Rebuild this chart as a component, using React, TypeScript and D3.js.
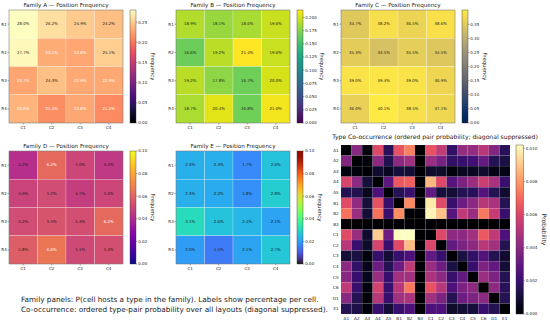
import React from "react";
import * as d3 from "d3";

const rows = ["R1", "R2", "R3", "R4"];
const cols = ["C1", "C2", "C3", "C4"];

// percentages per cell, rows R1..R4, cols C1..C4
const familyA = [
  [28.0, 26.2, 24.9, 24.2],
  [27.7, 23.1, 22.8, 25.1],
  [22.7, 24.3, 22.9, 22.9],
  [23.6, 21.4, 22.8, 21.2],
];
const familyB = [
  [18.9, 18.1, 18.6, 19.6],
  [16.6, 19.2, 21.4, 19.6],
  [19.2, 17.8, 16.7, 20.0],
  [18.7, 20.4, 16.8, 21.0],
];
const familyC = [
  [34.7, 38.2, 36.5, 38.6],
  [35.3, 33.5, 35.5, 34.5],
  [39.0, 39.4, 39.0, 36.9],
  [36.0, 40.1, 38.5, 37.1],
];
const familyD = [
  [4.2, 6.2, 5.0, 4.5],
  [4.9, 5.2, 4.7, 5.0],
  [5.2, 5.5, 5.3, 6.2],
  [5.8, 6.6, 5.1, 5.3],
];
const familyE = [
  [2.3, 2.3, 1.7, 2.6],
  [2.3, 2.2, 1.8, 2.8],
  [3.1, 2.6, 2.4, 2.1],
  [2.0, 1.5, 2.1, 2.7],
];

const ticksA = [0, 0.05, 0.1, 0.15, 0.2, 0.25];
const ticksB = [0, 0.025, 0.05, 0.075, 0.1, 0.125, 0.15, 0.175, 0.2];
const ticksC = [0, 0.05, 0.1, 0.15, 0.2, 0.25, 0.3, 0.35];
const ticksDE = [0, 0.02, 0.04, 0.06, 0.08, 0.1];

const types = ["A1", "A2", "A3", "A4", "A5", "B1", "B2", "B3", "C1", "C2", "C3", "C4", "C5", "C6", "D1", "E1"];
// ordered pair probability, row = first type, col = second type
const cooc = [
  [0, 0.004, 0.0003, 0.0061, 0.0016, 0.0064, 0.0075, 0, 0.0064, 0.0054, 0.0018, 0.0043, 0.0043, 0.0051, 0.0038, 0.0016],
  [0.0038, 0, 0.0003, 0.0041, 0.0014, 0.0041, 0.0046, 0, 0.0044, 0.0036, 0.0018, 0.002, 0.0022, 0.0031, 0.0015, 0.0012],
  [0.0003, 0.0002, 0, 0.0009, 0.0006, 0.0011, 0.001, 0, 0.0008, 0.0008, 0.0002, 0.0006, 0.0006, 0.0009, 0.0004, 0.0004],
  [0.006, 0.0041, 0.0011, 0, 0.0029, 0.0066, 0.0068, 0, 0.0087, 0.0061, 0.0027, 0.0037, 0.0044, 0.0056, 0.0048, 0.002],
  [0.0015, 0.0014, 0.0006, 0.0025, 0, 0.0015, 0.002, 0, 0.003, 0.0011, 0.001, 0.0015, 0.0016, 0.0026, 0.0015, 0.0009],
  [0.0062, 0.0042, 0.0011, 0.0064, 0.002, 0, 0.0077, 0, 0.0098, 0.0062, 0.002, 0.0033, 0.0041, 0.0051, 0.0048, 0.0015],
  [0.0072, 0.0044, 0.001, 0.0072, 0.002, 0.0078, 0, 0, 0.01, 0.0089, 0.0027, 0.0053, 0.0044, 0.0073, 0.0055, 0.002],
  [0, 0, 0, 0, 0, 0, 0, 0, 0, 0, 0, 0, 0, 0, 0, 0],
  [0.0062, 0.0044, 0.0009, 0.0091, 0.0033, 0.0102, 0.0102, 0, 0, 0.0061, 0.0041, 0.0041, 0.0046, 0.0066, 0.0053, 0.0025],
  [0.0051, 0.002, 0.0008, 0.0059, 0.002, 0.0061, 0.0088, 0, 0.006, 0, 0.003, 0.0037, 0.0041, 0.0051, 0.0046, 0.0015],
  [0.001, 0.0012, 0.0003, 0.002, 0.001, 0.002, 0.0025, 0, 0.003, 0.002, 0, 0.0012, 0.0018, 0.0026, 0.0015, 0.0009],
  [0.0041, 0.0018, 0.0005, 0.0033, 0.0015, 0.0033, 0.0053, 0, 0.0044, 0.0033, 0.0012, 0, 0.002, 0.0037, 0.003, 0.001],
  [0.004, 0.002, 0.0006, 0.0044, 0.002, 0.0046, 0.0046, 0, 0.0049, 0.0041, 0.002, 0.003, 0, 0.0044, 0.0037, 0.0015],
  [0.0053, 0.002, 0.0003, 0.0058, 0.002, 0.0051, 0.0073, 0, 0.0064, 0.0051, 0.0025, 0.0037, 0.0041, 0, 0.0041, 0.0016],
  [0.004, 0.0015, 0.0002, 0.0051, 0.002, 0.0046, 0.0049, 0, 0.0046, 0.0037, 0.0015, 0.0033, 0.0037, 0.0041, 0, 0.0015],
  [0.0015, 0.0013, 0.0002, 0.002, 0.001, 0.002, 0.0025, 0, 0.0025, 0.0025, 0.0008, 0.001, 0.0011, 0.002, 0.0015, 0],
];
const coocTicks = [0, 0.002, 0.004, 0.006, 0.008, 0.01];

const FONT = "DejaVu Sans";
const DARK = "#1a1a1a";
const LIGHT = "#fff";

const mean = (m: number[][]) => d3.mean(m.flat()) as number;

const panels = [
  { title: "Family A — Position Frequency", data: familyA, cmap: d3.interpolateMagma, vmax: 0.28, ticks: ticksA, fmt: ".2f", col: 0, row: 0,
    label: (v: number) => (v > mean(familyA) ? DARK : LIGHT) },
  { title: "Family B — Position Frequency", data: familyB, cmap: d3.interpolateViridis, vmax: 0.214, ticks: ticksB, fmt: ".3f", col: 1, row: 0,
    label: () => DARK },
  { title: "Family C — Position Frequency", data: familyC, cmap: d3.interpolateCividis, vmax: 0.401, ticks: ticksC, fmt: ".2f", col: 2, row: 0,
    label: () => DARK },
  { title: "Family D — Position Frequency", data: familyD, cmap: d3.interpolatePlasma, vmax: 0.1, ticks: ticksDE, fmt: ".2f", col: 0, row: 1,
    label: (v: number) => (v > 6 ? LIGHT : DARK) },
  { title: "Family E — Position Frequency", data: familyE, cmap: d3.interpolateTurbo, vmax: 0.1, ticks: ticksDE, fmt: ".2f", col: 1, row: 1,
    label: () => DARK },
];

// layout
const colX = [9, 176, 341];
const pw = 114;
const rowY = [10, 151];
const ph = 113;
const tickFs = 4.0;

function Gradient({ id, cmap }: { id: string; cmap: (t: number) => string }) {
  const stops = d3.range(0, 1.0001, 0.05);
  return (
    <linearGradient id={id} x1="0" y1="1" x2="0" y2="0">
      {stops.map((t) => (
        <stop key={t} offset={t} stopColor={cmap(t)} />
      ))}
    </linearGradient>
  );
}

function Colorbar({ id, x, y0, y1, w, vmax, ticks, fmt, label, labelDx, labelFs }: any) {
  const s = d3.scaleLinear().domain([0, vmax]).range([y1, y0]);
  const f = d3.format(fmt);
  return (
    <g>
      <rect x={x} y={y0} width={w} height={y1 - y0} fill={`url(#${id})`} stroke="#333" strokeWidth={0.4} />
      {ticks.map((t: number) => (
        <g key={t}>
          <line x1={x + w} x2={x + w + 1.5} y1={s(t)} y2={s(t)} stroke="#333" strokeWidth={0.4} />
          <text x={x + w + 2.3} y={s(t)} dy="0.35em" fontSize={tickFs} fill="#222">{f(t)}</text>
        </g>
      ))}
      <text transform={`translate(${x + w + labelDx},${(y0 + y1) / 2}) rotate(90)`} textAnchor="middle" fontSize={labelFs} fill="#222">
        {label}
      </text>
    </g>
  );
}

function FamilyPanel({ p, i }: { p: (typeof panels)[number]; i: number }) {
  const x0 = colX[p.col], y0 = rowY[p.row];
  const xs = d3.scaleBand().domain(cols).range([x0, x0 + pw]);
  const ys = d3.scaleBand().domain(rows).range([y0, y0 + ph]);
  const color = d3.scaleSequential(p.cmap).domain([0, p.vmax]);
  const gid = "grad" + i;
  return (
    <g>
      <defs>
        <Gradient id={gid} cmap={p.cmap} />
      </defs>
      <text x={x0 + pw / 2} y={y0 - 3} textAnchor="middle" fontSize={5.6} fill="#222">{p.title}</text>
      {p.data.map((r, ri) =>
        r.map((v, ci) => (
          <g key={ri + "-" + ci}>
            <rect x={xs(cols[ci])} y={ys(rows[ri])} width={xs.bandwidth()} height={ys.bandwidth()}
              fill={color(v / 100)} stroke="rgba(255,255,255,0.45)" strokeWidth={0.5} />
            <text x={(xs(cols[ci]) as number) + xs.bandwidth() / 2} y={(ys(rows[ri]) as number) + ys.bandwidth() / 2}
              dy="0.35em" textAnchor="middle" fontSize={3.9} fill={p.label(v)}>
              {v.toFixed(1)}%
            </text>
          </g>
        ))
      )}
      <rect x={x0} y={y0} width={pw} height={ph} fill="none" stroke="#444" strokeWidth={0.4} />
      {rows.map((r) => (
        <g key={r}>
          <line x1={x0 - 1.5} x2={x0} y1={(ys(r) as number) + ys.bandwidth() / 2} y2={(ys(r) as number) + ys.bandwidth() / 2} stroke="#333" strokeWidth={0.4} />
          <text x={x0 - 2.3} y={(ys(r) as number) + ys.bandwidth() / 2} dy="0.35em" textAnchor="end" fontSize={tickFs} fill="#222">{r}</text>
        </g>
      ))}
      {cols.map((c) => (
        <g key={c}>
          <line x1={(xs(c) as number) + xs.bandwidth() / 2} x2={(xs(c) as number) + xs.bandwidth() / 2} y1={y0 + ph} y2={y0 + ph + 1.5} stroke="#333" strokeWidth={0.4} />
          <text x={(xs(c) as number) + xs.bandwidth() / 2} y={y0 + ph + 5.8} textAnchor="middle" fontSize={tickFs} fill="#222">{c}</text>
        </g>
      ))}
      <Colorbar id={gid} x={x0 + pw + 7} y0={y0} y1={y0 + ph} w={6} vmax={p.vmax} ticks={p.ticks} fmt={p.fmt}
        label="Frequency" labelDx={p.fmt === ".3f" ? 17 : 14.5} labelFs={5.4} />
    </g>
  );
}

function Cooccurrence() {
  const mx = 341, my = 145, ms = 169;
  const xs = d3.scaleBand().domain(types).range([mx, mx + ms]);
  const ys = d3.scaleBand().domain(types).range([my, my + ms]);
  const vmax = 0.0102;
  const color = d3.scaleSequential(d3.interpolateMagma).domain([0, vmax]);
  return (
    <g>
      <defs>
        <Gradient id="gradCooc" cmap={d3.interpolateMagma} />
      </defs>
      <text x={435} y={139} textAnchor="middle" fontSize={6.1} fill="#222">
        Type Co-occurrence (ordered pair probability; diagonal suppressed)
      </text>
      {cooc.map((r, ri) =>
        r.map((v, ci) => (
          <rect key={ri + "-" + ci} x={xs(types[ci])} y={ys(types[ri])} width={xs.bandwidth()} height={ys.bandwidth()}
            fill={color(v)} stroke="rgba(255,255,255,0.13)" strokeWidth={0.4} />
        ))
      )}
      {types.map((t) => (
        <g key={t}>
          <text x={mx - 2.3} y={(ys(t) as number) + ys.bandwidth() / 2} dy="0.35em" textAnchor="end" fontSize={4.2} fill="#222">{t}</text>
          <text x={(xs(t) as number) + xs.bandwidth() / 2} y={my + ms + 5.5} textAnchor="middle" fontSize={4.2} fill="#222">{t}</text>
        </g>
      ))}
      <Colorbar id="gradCooc" x={mx + ms + 6} y0={my} y1={my + ms} w={7.5} vmax={vmax} ticks={coocTicks} fmt=".3f"
        label="Probability" labelDx={18.5} labelFs={6.0} />
    </g>
  );
}

export default function App() {
  return (
    <svg width={550} height={323} style={{ position: "absolute", left: 0, top: 0, background: "#fff" }} fontFamily={FONT}>
      {panels.map((p, i) => (
        <FamilyPanel key={i} p={p} i={i} />
      ))}
      <Cooccurrence />
      <text x={21} y={301.5} fontSize={7.3} fill="#222">
        Family panels: P(cell hosts a type in the family). Labels show percentage per cell.
      </text>
      <text x={21} y={311.5} fontSize={7.3} fill="#222">
        Co-occurrence: ordered type-pair probability over all layouts (diagonal suppressed).
      </text>
    </svg>
  );
}
